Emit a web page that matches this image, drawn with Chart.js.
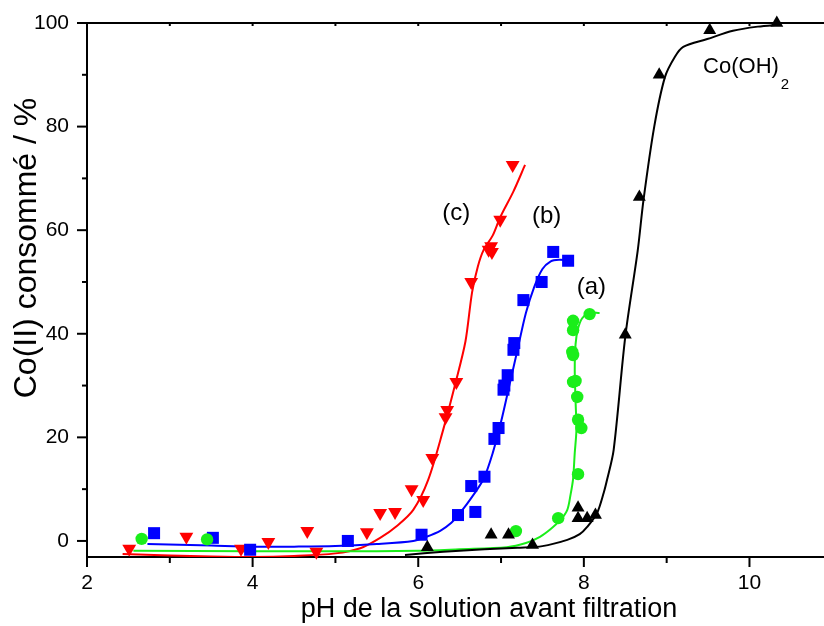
<!DOCTYPE html>
<html>
<head>
<meta charset="utf-8">
<script src="https://cdn.jsdelivr.net/npm/chart.js@4.4.1/dist/chart.umd.min.js"></script>
<style>
  html, body { margin: 0; padding: 0; background: #fff; }
  #wrap { width: 824px; height: 626px; }
</style>
</head>
<body>
<div id="wrap"><canvas id="chart" width="824" height="626"></canvas></div>
<script>
// measured points, pH vs % Co(II)
const ptsA_x = [2.66, 3.45, 7.18, 7.69, 7.93, 7.97, 7.93, 7.92, 7.87, 7.90, 7.87, 7.86, 7.87, 7.87, 8.07];
const ptsA_y = [0.4, 0.3, 1.9, 4.4, 12.9, 21.8, 23.4, 27.8, 30.7, 30.9, 35.9, 36.5, 40.7, 42.5, 43.8];

const ptsB_x = [2.81, 3.52, 3.97, 5.15, 6.04, 6.48, 6.69, 6.64, 6.80, 6.92, 6.97, 7.03, 7.04, 7.08, 7.15, 7.16, 7.27, 7.49, 7.63, 7.81];
const ptsB_y = [1.5, 0.6, -1.7, 0.0, 1.2, 5.0, 5.6, 10.6, 12.4, 19.7, 21.8, 29.2, 30.0, 32.0, 36.9, 38.2, 46.5, 50.0, 55.8, 54.1];

const ptsC_x = [2.51, 3.20, 3.86, 4.19, 4.66, 4.77, 5.38, 5.54, 5.72, 5.92, 6.06, 6.17, 6.33, 6.35, 6.46, 6.64, 6.85, 6.88, 6.89, 6.99, 7.14];
const ptsC_y = [-1.5, 0.8, -1.5, -0.2, 1.9, -2.1, 1.7, 5.4, 5.6, 10.0, 7.9, 16.0, 23.9, 25.3, 30.7, 50.0, 56.2, 56.9, 55.8, 62.0, 72.6];

const ptsOH_x = [6.11, 6.88, 7.09, 7.38, 7.93, 7.93, 8.04, 8.14, 8.50, 8.67, 8.91, 9.52, 10.33];
const ptsOH_y = [-1.2, 1.2, 1.2, -0.8, 6.4, 4.4, 4.4, 5.0, 39.8, 66.4, 90.0, 98.6, 100.0];

// fitted curves
const fitA_x = [2.56, 4.0, 5.0, 6.0, 6.5, 7.07, 7.3, 7.47, 7.6, 7.72, 7.8, 7.84, 7.87, 7.89, 7.91, 7.90, 7.89, 7.90, 7.93, 7.98, 8.06, 8.19];
const fitA_y = [-1.9, -2.0, -2.0, -1.9, -1.6, -1.2, -0.4, 0.8, 2.3, 4.1, 6.0, 9.0, 12.0, 17.0, 21.4, 27.0, 33.0, 38.0, 41.0, 43.0, 44.0, 44.0];

const fitB_x = [2.73, 3.5, 4.0, 4.5, 5.0, 5.5, 5.94, 6.1, 6.27, 6.4, 6.51, 6.65, 6.79, 6.9, 7.0, 7.1, 7.2, 7.3, 7.4, 7.5, 7.6, 7.7, 7.81];
const fitB_y = [-0.6, -0.9, -1.1, -1.1, -1.0, -0.6, 0.0, 0.8, 2.0, 3.5, 5.5, 8.5, 12.0, 17.0, 23.0, 30.0, 37.0, 44.0, 49.0, 52.5, 54.0, 54.3, 54.2];

const fitC_x = [2.43, 3.0, 3.5, 4.0, 4.5, 5.0, 5.3, 5.54, 5.75, 5.94, 6.12, 6.3, 6.45, 6.57, 6.65, 6.72, 6.79, 6.9, 6.99, 7.15, 7.29];
const fitC_y = [-2.5, -2.8, -3.0, -3.1, -2.9, -2.4, -1.4, 0.6, 3.0, 6.0, 11.8, 21.4, 30.5, 38.5, 48.0, 53.0, 56.2, 59.0, 62.5, 67.5, 72.6];

const fitOH_x = [5.84, 6.3, 6.8, 7.2, 7.5, 7.8, 7.95, 8.04, 8.16, 8.24, 8.28, 8.36, 8.5, 8.65, 8.72, 8.85, 8.98, 9.1, 9.2, 9.49, 9.8, 10.1, 10.37];
const fitOH_y = [-2.7, -2.1, -1.6, -1.3, -1.0, 0.2, 1.3, 2.7, 5.4, 9.3, 11.8, 17.6, 39.4, 56, 65.8, 80, 89.6, 93.5, 95.4, 96.9, 98.5, 99.3, 99.7];

const xMajor = [2, 4, 6, 8, 10];
const xMinor = [3, 5, 7, 9];
const yMajor = [0, 20, 40, 60, 80, 100];
const yMinor = [10, 30, 50, 70, 90];

const xTitle = "pH de la solution avant filtration";
const yTitle = "Co(II) consommé / %";

const FONT = "'Liberation Sans', Arial, Helvetica, sans-serif";

const zip = (xs, ys) => xs.map((x, i) => ({ x: x, y: ys[i] }));

// curve labels, placed in data units
const notes = [
  { text: "(c)", x: 6.46, y: 63.3, size: 24, align: "center" },
  { text: "(b)", x: 7.55, y: 62.7, size: 24, align: "center" },
  { text: "(a)", x: 8.09, y: 49.0, size: 24, align: "center" },
];

const decor = {
  id: "decor",
  afterDraw(chart) {
    const { ctx, chartArea: a, scales: { x, y } } = chart;
    ctx.save();
    ctx.strokeStyle = "#000";
    ctx.lineWidth = 2;
    ctx.beginPath();
    ctx.moveTo(a.left - 1, a.top);
    ctx.lineTo(a.right, a.top);
    ctx.stroke();

    const tick = (x0, y0, x1, y1) => {
      ctx.beginPath();
      ctx.moveTo(x0, y0);
      ctx.lineTo(x1, y1);
      ctx.stroke();
    };
    xMajor.forEach((v) => {
      const px = x.getPixelForValue(v);
      tick(px, a.bottom, px, a.bottom + 10);
      tick(px, a.top, px, a.top + 3);
    });
    xMinor.forEach((v) => {
      const px = x.getPixelForValue(v);
      tick(px, a.bottom, px, a.bottom + 6);
      tick(px, a.top, px, a.top + 3);
    });
    yMajor.forEach((v) => {
      const py = y.getPixelForValue(v);
      tick(a.left, py, a.left - 10, py);
    });
    yMinor.forEach((v) => {
      const py = y.getPixelForValue(v);
      tick(a.left, py, a.left - 5, py);
    });

    ctx.fillStyle = "#000";
    ctx.textBaseline = "middle";
    notes.forEach((n) => {
      ctx.font = n.size + "px " + FONT;
      ctx.textAlign = n.align;
      ctx.fillText(n.text, x.getPixelForValue(n.x), y.getPixelForValue(n.y));
    });

    // Co(OH)2 with subscript
    const lx = x.getPixelForValue(9.44);
    const ly = y.getPixelForValue(91.5);
    ctx.textAlign = "left";
    ctx.font = "22px " + FONT;
    ctx.fillText("Co(OH)", lx, ly);
    const w = ctx.measureText("Co(OH)").width;
    ctx.font = "15px " + FONT;
    ctx.fillText("2", lx + w + 2, ly + 18);

    // axis titles
    ctx.font = "27px " + FONT;
    ctx.textAlign = "center";
    ctx.fillText(xTitle, 489, 610);
    ctx.save();
    ctx.translate(27, 248);
    ctx.rotate(-Math.PI / 2);
    ctx.font = "32px " + FONT;
    ctx.fillText(yTitle, 0, 0);
    ctx.restore();

    ctx.restore();
  },
};

const pointSet = (xs, ys, color, style, radius, rotation) => ({
  data: zip(xs, ys),
  showLine: false,
  clip: false,
  pointStyle: style,
  pointRadius: radius,
  pointHoverRadius: radius,
  pointRotation: rotation || 0,
  backgroundColor: color,
  borderColor: color,
  borderWidth: 0,
});

const curveSet = (xs, ys, color) => ({
  data: zip(xs, ys),
  showLine: true,
  pointRadius: 0,
  borderColor: color,
  borderWidth: 2,
  tension: 0.3,
  fill: false,
});

const red = "#ff0000";
const blue = "#0000ff";
const green = "#1aee1a";
const black = "#000000";

new Chart(document.getElementById("chart"), {
  type: "scatter",
  data: {
    datasets: [
      pointSet(ptsOH_x, ptsOH_y, black, "triangle", 7.5),
      pointSet(ptsA_x, ptsA_y, green, "circle", 6.2),
      pointSet(ptsB_x, ptsB_y, blue, "rect", 8.5),
      pointSet(ptsC_x, ptsC_y, red, "triangle", 8, 180),
      curveSet(fitOH_x, fitOH_y, black),
      curveSet(fitA_x, fitA_y, green),
      curveSet(fitB_x, fitB_y, blue),
      curveSet(fitC_x, fitC_y, red),
    ],
  },
  options: {
    responsive: false,
    animation: false,
    layout: { autoPadding: false, padding: { top: 23, right: 0, left: 0, bottom: 0 } },
    plugins: {
      legend: { display: false },
      tooltip: { enabled: false },
    },
    scales: {
      x: {
        type: "linear",
        min: 2,
        max: 10.9,
        afterFit: (s) => { s.height = 69; },
        grid: { display: false, drawTicks: true, tickLength: 8 },
        border: { display: true, color: "#000", width: 2 },
        ticks: {
          stepSize: 2,
          includeBounds: false,
          autoSkip: false,
          maxRotation: 0,
          padding: 6,
          color: "#000",
          font: { family: FONT, size: 21 },
        },
      },
      y: {
        type: "linear",
        min: -3.1,
        max: 100,
        afterFit: (s) => { s.width = 87; },
        grid: { display: false, drawTicks: true, tickLength: 8 },
        border: { display: true, color: "#000", width: 2 },
        ticks: {
          stepSize: 20,
          includeBounds: false,
          autoSkip: false,
          padding: 10,
          color: "#000",
          font: { family: FONT, size: 21 },
        },
      },
    },
  },
  plugins: [decor],
});
</script>
</body>
</html>
